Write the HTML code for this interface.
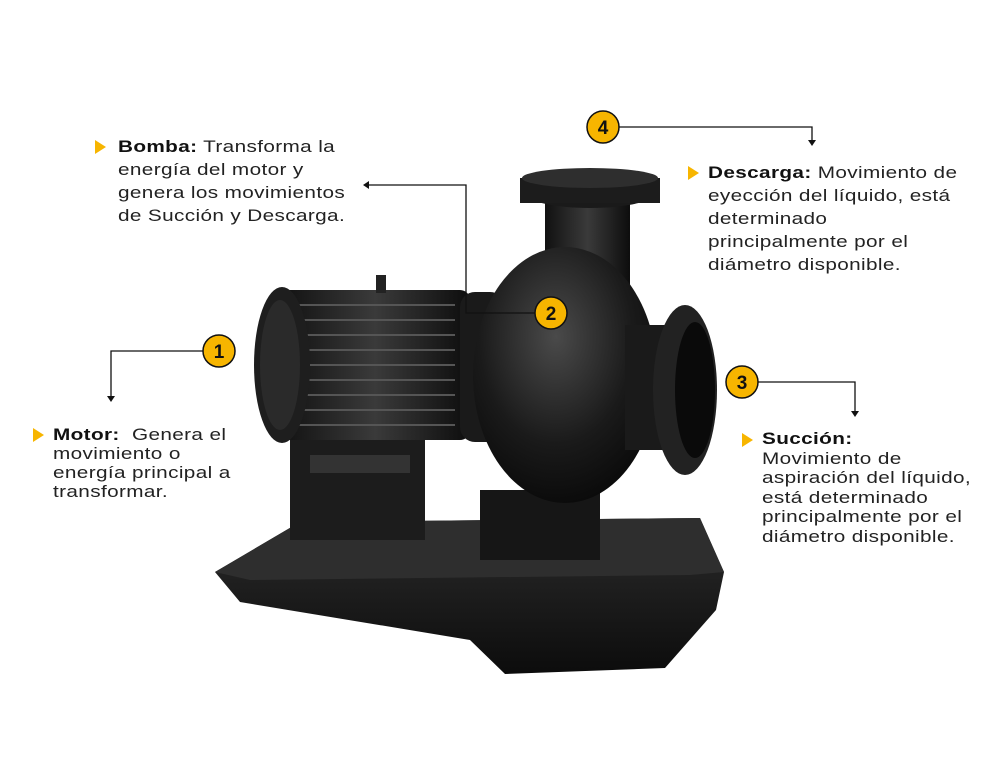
<!DOCTYPE html>
<html><head><meta charset="utf-8"><style>
html,body{margin:0;padding:0;background:#fff;width:1001px;height:762px;overflow:hidden;position:relative;font-family:"Liberation Sans",sans-serif;color:#222}
.t{position:absolute;font-size:17px;line-height:23px;transform:scaleX(1.22);transform-origin:0 0;letter-spacing:.3px;white-space:nowrap}
.t b{font-weight:bold;color:#111}
.tri{position:absolute;width:0;height:0;border-top:7px solid transparent;border-bottom:7px solid transparent;border-left:11px solid #f7b500}
</style></head><body>
<svg width="1001" height="762" style="position:absolute;left:0;top:0">
<defs>
<linearGradient id="g1" x1="0" x2="1"><stop offset="0" stop-color="#111"/><stop offset=".5" stop-color="#3a3a3a"/><stop offset="1" stop-color="#0d0d0d"/></linearGradient>
<radialGradient id="g2" cx=".45" cy=".35" r=".7"><stop offset="0" stop-color="#4a4a4a"/><stop offset=".6" stop-color="#1a1a1a"/><stop offset="1" stop-color="#080808"/></radialGradient>
<linearGradient id="g3" x1="0" y1="0" x2="0" y2="1"><stop offset="0" stop-color="#2c2c2c"/><stop offset="1" stop-color="#0c0c0c"/></linearGradient>
</defs>
<polygon points="215,572 300,522 700,518 724,572 716,610 665,668 505,674 470,640 240,602" fill="url(#g3)"/>
<polygon points="215,572 300,522 700,518 724,572 690,575 250,580" fill="#2e2e2e"/>
<rect x="290" y="440" width="135" height="100" fill="#1c1c1c"/>
<rect x="310" y="455" width="100" height="18" fill="#333"/>
<rect x="480" y="490" width="120" height="70" fill="#161616"/>
<rect x="280" y="290" width="190" height="150" rx="10" fill="url(#g1)"/>
<g stroke="#555" stroke-width="2">
<line x1="295" y1="305" x2="455" y2="305"/><line x1="295" y1="320" x2="455" y2="320"/><line x1="295" y1="335" x2="455" y2="335"/><line x1="295" y1="350" x2="455" y2="350"/><line x1="295" y1="365" x2="455" y2="365"/><line x1="295" y1="380" x2="455" y2="380"/><line x1="295" y1="395" x2="455" y2="395"/><line x1="295" y1="410" x2="455" y2="410"/><line x1="295" y1="425" x2="455" y2="425"/>
</g>
<ellipse cx="282" cy="365" rx="28" ry="78" fill="#1e1e1e"/>
<ellipse cx="280" cy="365" rx="20" ry="65" fill="#2a2a2a"/>
<rect x="376" y="275" width="10" height="18" fill="#222"/>
<rect x="460" y="292" width="45" height="150" rx="15" fill="#1a1a1a"/>
<rect x="545" y="190" width="85" height="110" fill="url(#g1)"/>
<ellipse cx="590" cy="190" rx="70" ry="18" fill="#1a1a1a"/>
<rect x="520" y="178" width="140" height="25" fill="#1c1c1c"/>
<ellipse cx="590" cy="178" rx="68" ry="10" fill="#2e2e2e"/>
<ellipse cx="565" cy="375" rx="92" ry="128" fill="url(#g2)"/>
<rect x="625" y="325" width="60" height="125" fill="#1a1a1a"/>
<ellipse cx="685" cy="390" rx="32" ry="85" fill="#222"/>
<ellipse cx="695" cy="390" rx="20" ry="68" fill="#0a0a0a"/>
<g stroke="#111" stroke-width="1.3" fill="none">
<polyline points="203,351 111,351 111,398"/>
<polyline points="535,313 466,313 466,185 367,185"/>
<polyline points="758,382 855,382 855,413"/>
<polyline points="619,127 812,127 812,142"/>
</g>
<g fill="#111">
<polygon points="107,396 115,396 111,402"/>
<polygon points="369,181 369,189 363,185"/>
<polygon points="851,411 859,411 855,417"/>
<polygon points="808,140 816,140 812,146"/>
</g>
<g fill="#f7b500" stroke="#111" stroke-width="1.5">
<circle cx="219" cy="351" r="16"/><circle cx="551" cy="313" r="16"/><circle cx="742" cy="382" r="16"/><circle cx="603" cy="127" r="16"/>
</g>
<g font-family="Liberation Sans" font-weight="bold" font-size="19" text-anchor="middle" fill="#111">
<text x="219" y="358">1</text><text x="551" y="320">2</text><text x="742" y="389">3</text><text x="603" y="134">4</text>
</g>
</svg>
<div class="tri" style="left:95px;top:140px"></div>
<div class="t" style="left:118px;top:135px"><b>Bomba:</b> Transforma la<br>energía del motor y<br>genera los movimientos<br>de Succión y Descarga.</div>
<div class="tri" style="left:688px;top:166px"></div>
<div class="t" style="left:708px;top:161px"><b>Descarga:</b> Movimiento de<br>eyección del líquido, está<br>determinado<br>principalmente por el<br>diámetro disponible.</div>
<div class="tri" style="left:33px;top:428px"></div>
<div class="t" style="left:53px;top:425px;line-height:19px"><b>Motor:</b>&nbsp; Genera el<br>movimiento o<br>energía principal a<br>transformar.</div>
<div class="tri" style="left:742px;top:433px"></div>
<div class="t" style="left:762px;top:429px;line-height:19.5px"><b>Succión:</b><br>Movimiento de<br>aspiración del líquido,<br>está determinado<br>principalmente por el<br>diámetro disponible.</div>
</body></html>
